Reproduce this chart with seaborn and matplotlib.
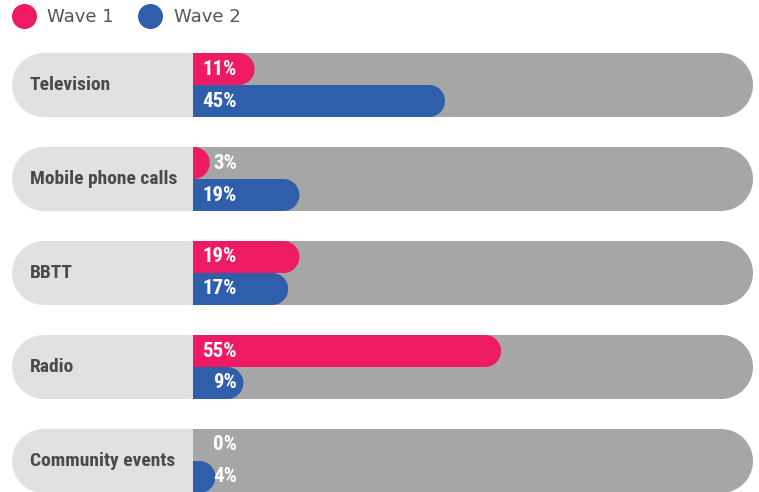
import matplotlib
matplotlib.use("Agg")
import matplotlib.pyplot as plt
from matplotlib.patches import Polygon, Rectangle
from matplotlib.lines import Line2D
from matplotlib import font_manager
import numpy as np
import seaborn as sns
import pandas as pd

categories = ["Television", "Mobile phone calls", "BBTT", "Radio", "Community events"]
wave1 = [11, 3, 19, 55, 0]
wave2 = [45, 19, 17, 9, 4]
waves = ["Wave 1", "Wave 2"]
colors = {"Wave 1": "#EE1A64", "Wave 2": "#2F5FAA"}

df = pd.DataFrame({
    "category": categories * 2,
    "value": wave1 + wave2,
    "wave": [waves[0]] * len(categories) + [waves[1]] * len(categories),
})

sns.set_style("white")
avail = {f.name for f in font_manager.fontManager.ttflist}
cond = next((f for f in ["Roboto Condensed", "Liberation Sans Narrow", "DejaVu Sans"] if f in avail), "DejaVu Sans")
plt.rcParams["font.family"] = ["DejaVu Sans"]

W, H = 759, 492
fig = plt.figure(figsize=(W / 100, H / 100), dpi=100)
ax = fig.add_axes([0, 0, 1, 1])

px_per_pct = 5.6     # horizontal pixels per percentage point
px_per_cat = 94.0    # vertical pixels per category
x0_px = 193
y0_px = 85
group_w = 64 / px_per_cat

sns.barplot(data=df, y="category", x="value", hue="wave", orient="h",
            palette=colors, width=group_w, ax=ax, legend=False,
            saturation=1, order=categories, hue_order=waves)

bars = [p for p in ax.patches if isinstance(p, Rectangle)]
ax.set_xlim(-x0_px / px_per_pct, (W - x0_px) / px_per_pct)
ax.set_ylim((H - y0_px) / px_per_cat, -y0_px / px_per_cat)


def capsule(x_left, x_right, y_top, h, r_px, side="right", n=40):
    """Box with one rounded end (radius r_px in pixels), in data coordinates."""
    rx = min(r_px / px_per_pct, max(x_right - x_left, 0))
    ry = r_px / px_per_cat
    yb = y_top + h
    t = np.linspace(0, np.pi / 2, n)
    if side == "right":
        c1 = np.column_stack([x_right - rx + rx * np.sin(t), y_top + ry - ry * np.cos(t)])
        c2 = np.column_stack([x_right - rx + rx * np.cos(t), yb - ry + ry * np.sin(t)])
        pts = np.vstack([[x_left, y_top], c1, c2, [x_left, yb]])
    else:
        c1 = np.column_stack([x_left + rx - rx * np.sin(t), yb - ry + ry * np.cos(t)])
        c2 = np.column_stack([x_left + rx - rx * np.cos(t), y_top + ry - ry * np.sin(t)])
        pts = np.vstack([[x_right, yb], c1, c2, [x_right, y_top]])
    return pts


# backgrounds and category labels
for i, cat in enumerate(categories):
    top = i - group_w / 2
    ax.add_patch(Polygon(capsule((12 - x0_px) / px_per_pct, 10, top, group_w, 32, side="left"),
                         closed=True, fc="#E1E1E1", ec="none", zorder=0.5))
    ax.add_patch(Polygon(capsule(0, 100, top, group_w, 32, side="right"),
                         closed=True, fc="#A6A6A6", ec="none", zorder=0.6))
    ax.text((30 - x0_px) / px_per_pct, i, cat, ha="left", va="center",
            fontsize=14, fontweight="bold", color="#4A4A4A", family=cond, zorder=5)

# rounded bars built from seaborn's bar rectangles
for b in bars:
    x, y, w, h = b.get_x(), b.get_y(), b.get_width(), b.get_height()
    fc = b.get_facecolor()
    b.remove()
    if w > 0:
        ax.add_patch(Polygon(capsule(x, x + w, y, h, 16, side="right"),
                             closed=True, fc=fc, ec="none", zorder=2))
    ax.text(44 / px_per_pct, y + h / 2, f"{w:.0f}%", ha="right", va="center",
            fontsize=15, fontweight="bold", color="white", family=cond, zorder=5)

ax.axis("off")

handles = [Line2D([], [], marker="o", ls="", markersize=17, color=colors[w]) for w in waves]
leg = ax.legend(handles, waves, loc="upper left", bbox_to_anchor=(-0.009, 1.009),
                ncol=2, frameon=False, fontsize=13, handletextpad=0.3,
                columnspacing=1.0, borderaxespad=0.3)
for t in leg.get_texts():
    t.set_color("#555555")

fig.savefig("out.png", dpi=100)
